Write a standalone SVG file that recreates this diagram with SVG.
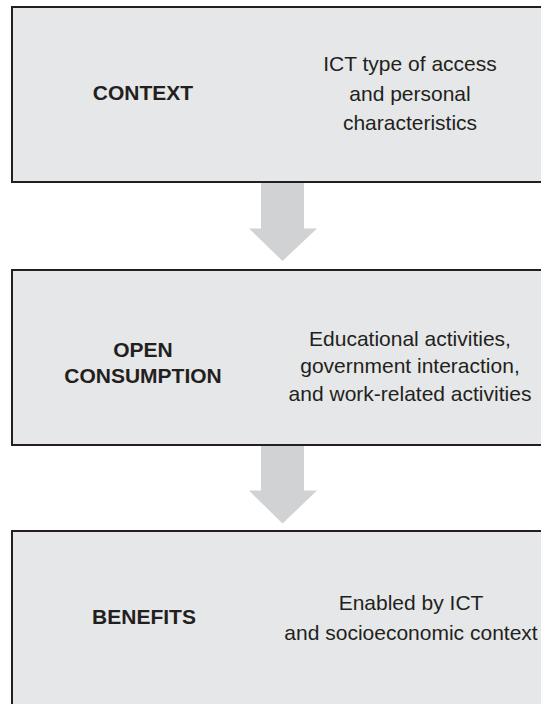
<svg xmlns="http://www.w3.org/2000/svg" width="541" height="704" viewBox="0 0 541 704">
<style>
.box{fill:#e6e7e8;stroke:#231f20;stroke-width:2}
.arrow{fill:#d1d2d4;stroke:none}
.lbl{font-family:"Liberation Sans",Arial,sans-serif;font-size:21px;font-weight:bold;fill:#231f20;text-anchor:middle}
.txt{font-family:"Liberation Sans",Arial,sans-serif;font-size:21px;fill:#231f20;text-anchor:middle}
</style>
<rect x="0" y="0" width="541" height="704" fill="#ffffff"/>
<g id="connectors">
<polygon class="arrow" points="261,183 304,183 304,228.5 317,228.5 282.5,261 249,228.5 261,228.5"/>
<polygon class="arrow" points="261,446 304,446 304,490.5 317,490.5 282.5,523.5 249,490.5 261,490.5"/>
</g>
<g id="context">
<rect class="box" x="12" y="7" width="540" height="175"/>
<text class="lbl" x="143" y="100">CONTEXT</text>
<text class="txt" x="410" y="71">ICT type of access</text>
<text class="txt" x="410" y="100.5">and personal</text>
<text class="txt" x="410" y="130">characteristics</text>
</g>
<g id="open-consumption">
<rect class="box" x="12" y="270" width="540" height="175"/>
<text class="lbl" x="143" y="356.5">OPEN</text>
<text class="lbl" x="143" y="382.5">CONSUMPTION</text>
<text class="txt" x="410" y="346">Educational activities,</text>
<text class="txt" x="410" y="373.3">government interaction,</text>
<text class="txt" x="410" y="400.7">and work-related activities</text>
</g>
<g id="benefits">
<rect class="box" x="12" y="531" width="540" height="190"/>
<text class="lbl" x="144" y="624.3">BENEFITS</text>
<text class="txt" x="411" y="610">Enabled by ICT</text>
<text class="txt" x="411" y="640">and socioeconomic context</text>
</g>
</svg>
